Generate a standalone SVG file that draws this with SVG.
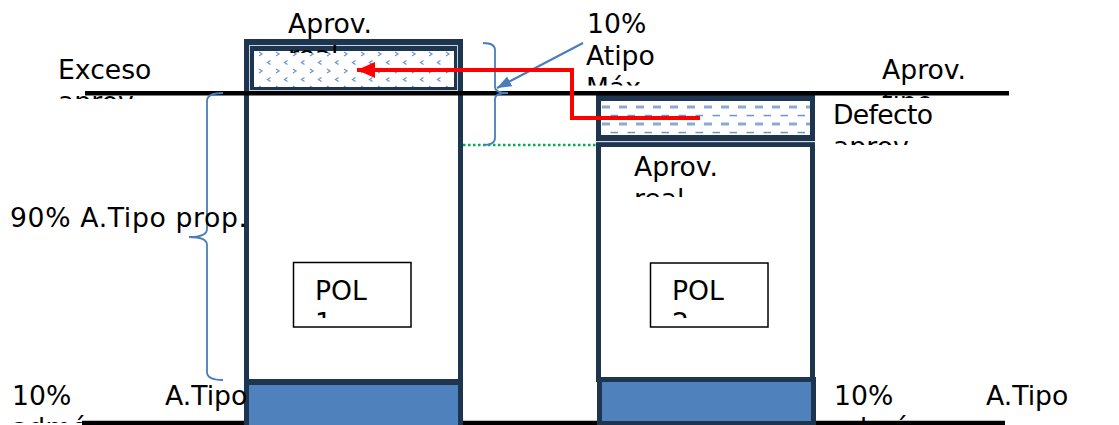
<svg xmlns="http://www.w3.org/2000/svg" width="1119" height="425" viewBox="0 0 1119 425">
  <style>
    .lbl { font-family: "DejaVu Sans", Verdana, sans-serif; font-size: 26.67px; fill: #000; }
    .frame { fill: #1E3550; }
    .white { fill: #FFFFFF; }
    .blue { fill: #4F81BD; }
    .hair { fill: none; stroke: #C9D3E2; stroke-width: 1; }
    .rule { stroke: #000; stroke-width: 4.5; }
    .brace { fill: none; stroke: #4A7EBB; stroke-width: 1.8; }
    .pol { fill: #FFFFFF; stroke: #000; stroke-width: 1.5; }
  </style>
  <defs>
    <!-- chevron fill for the excess block -->
    <pattern id="chev" patternUnits="userSpaceOnUse" x="254" y="51" width="17" height="17">
      <rect width="17" height="17" fill="#FFFFFF"/>
      <path d="M5,1 L8,3 L5,5" fill="none" stroke="#6F95CC" stroke-width="1.3"/>
      <path d="M16.5,9.5 L13.5,11.5 L16.5,13.5" fill="none" stroke="#6F95CC" stroke-width="1.3"/>
    </pattern>
    <!-- dashed fill for the deficit block -->
    <pattern id="dash" patternUnits="userSpaceOnUse" x="601" y="103" width="17" height="17">
      <rect width="17" height="17" fill="#FFFFFF"/>
      <rect x="1" y="2.5" width="8" height="3" fill="#8EA9D8"/>
      <rect x="9.5" y="11.8" width="8.5" height="1.5" fill="#6F95CC"/>
    </pattern>
    <marker id="redHead" markerWidth="5" markerHeight="4" refX="4.5" refY="2" orient="auto" markerUnits="strokeWidth">
      <path d="M0,0 L4.5,2 L0,4 Z" fill="#FF0000"/>
    </marker>
    <marker id="blueHead" markerWidth="7" markerHeight="5" refX="6.5" refY="2.5" orient="auto" markerUnits="strokeWidth">
      <path d="M0,0 L6.5,2.5 L0,5 Z" fill="#4A7EBB"/>
    </marker>
    <clipPath id="cA"><rect x="0" y="0" width="1119" height="53"/></clipPath>
    <clipPath id="cExc"><rect x="0" y="0" width="1119" height="99"/></clipPath>
    <clipPath id="cMax"><rect x="0" y="0" width="1119" height="85.5"/></clipPath>
    <clipPath id="cTipo"><rect x="0" y="0" width="1119" height="98"/></clipPath>
    <clipPath id="cDef"><rect x="0" y="0" width="1119" height="145"/></clipPath>
    <clipPath id="cReal"><rect x="0" y="0" width="1119" height="197"/></clipPath>
    <clipPath id="cPol"><rect x="0" y="0" width="1119" height="318"/></clipPath>
    <clipPath id="cAdm"><rect x="0" y="0" width="1119" height="423"/></clipPath>
  </defs>

  <!-- base line -->
  <line class="rule" x1="82" y1="423" x2="1005" y2="423"/>

  <!-- plot 1 column -->
  <g id="pol1">
    <rect class="frame" x="244" y="39" width="219" height="56"/>
    <rect class="hair" x="249.5" y="45.5" width="208" height="45"/>
    <rect x="254" y="51" width="200" height="36" fill="url(#chev)"/>
    <rect class="frame" x="244" y="93" width="219" height="292"/>
    <rect class="white" x="249" y="95" width="209" height="284"/>
    <rect class="frame" x="244" y="380" width="219" height="45"/>
    <rect class="blue" x="249" y="385" width="209" height="40"/>
  </g>

  <!-- plot 2 column -->
  <g id="pol2">
    <rect class="frame" x="596" y="95" width="219" height="46"/>
    <rect x="601" y="101" width="209" height="34" fill="url(#dash)"/>
    <rect class="frame" x="596" y="142" width="219" height="240"/>
    <rect class="white" x="601" y="147" width="209" height="230"/>
    <rect class="frame" x="597" y="377" width="219" height="48"/>
    <rect class="blue" x="602" y="382" width="209" height="39"/>
    <line x1="596" y1="141.7" x2="815" y2="141.7" stroke="#C9D3E2" stroke-width="1"/>
  </g>

  <!-- reference line -->
  <line class="rule" x1="85" y1="93.3" x2="1009" y2="93.3"/>

  <g id="pol1-label">
    <rect class="pol" x="293.5" y="262.5" width="117.5" height="64.5"/>
    <text class="lbl" clip-path="url(#cPol)"><tspan x="315" y="300">POL</tspan><tspan x="315" y="332">1</tspan></text>
  </g>
  <g id="pol2-label">
    <rect class="pol" x="650.5" y="263" width="117.5" height="64"/>
    <text class="lbl" clip-path="url(#cPol)"><tspan x="672" y="300">POL</tspan><tspan x="672" y="332">2</tspan></text>
  </g>

  <!-- connectors -->
  <g id="connectors">
    <line x1="463" y1="145" x2="596" y2="145" stroke="#00B050" stroke-width="2.5" stroke-dasharray="2.5 2.5"/>
    <path class="brace" d="M223,93 Q207,93 207,101 L207,229 Q207,237 189,237 Q207,237 207,245 L207,372 Q207,380 223,380"/>
    <path class="brace" d="M483,43 Q495,43 495,50 L495,87 Q495,93 508,93 Q495,93 495,99 L495,138 Q495,145 483,145"/>
    <line x1="583" y1="43" x2="497" y2="88" stroke="#4A7EBB" stroke-width="2.2" marker-end="url(#blueHead)"/>
    <polyline points="700,118 572,118 572,70 357,70" fill="none" stroke="#FF0000" stroke-width="4" marker-end="url(#redHead)"/>
  </g>

  <!-- labels -->
  <g id="labels">
    <text class="lbl" clip-path="url(#cA)"><tspan x="288" y="33">Aprov.</tspan><tspan x="288" y="65">real</tspan></text>
    <text class="lbl" clip-path="url(#cExc)"><tspan x="58" y="79">Exceso</tspan><tspan x="58" y="111">aprov.</tspan></text>
    <text class="lbl" clip-path="url(#cMax)"><tspan x="587" y="33">10%</tspan><tspan x="586" y="65">Atipo</tspan><tspan x="586" y="97">Máx</tspan></text>
    <text class="lbl" clip-path="url(#cTipo)"><tspan x="882" y="79">Aprov.</tspan><tspan x="882" y="111">tipo</tspan></text>
    <text class="lbl" clip-path="url(#cDef)"><tspan x="833" y="124" textLength="100">Defecto</tspan><tspan x="833" y="156">aprov.</tspan></text>
    <text class="lbl" clip-path="url(#cReal)"><tspan x="634" y="176">Aprov.</tspan><tspan x="634" y="208">real</tspan></text>
    <text class="lbl" x="10" y="227" textLength="237">90% A.Tipo prop.</text>
    <text class="lbl" clip-path="url(#cAdm)"><tspan x="12" y="405">10%</tspan><tspan x="165" y="405">A.Tipo</tspan><tspan x="12" y="437">admón.</tspan></text>
    <text class="lbl" clip-path="url(#cAdm)"><tspan x="834" y="405">10%</tspan><tspan x="986" y="405">A.Tipo</tspan><tspan x="834" y="437">admón.</tspan></text>
  </g>
</svg>
